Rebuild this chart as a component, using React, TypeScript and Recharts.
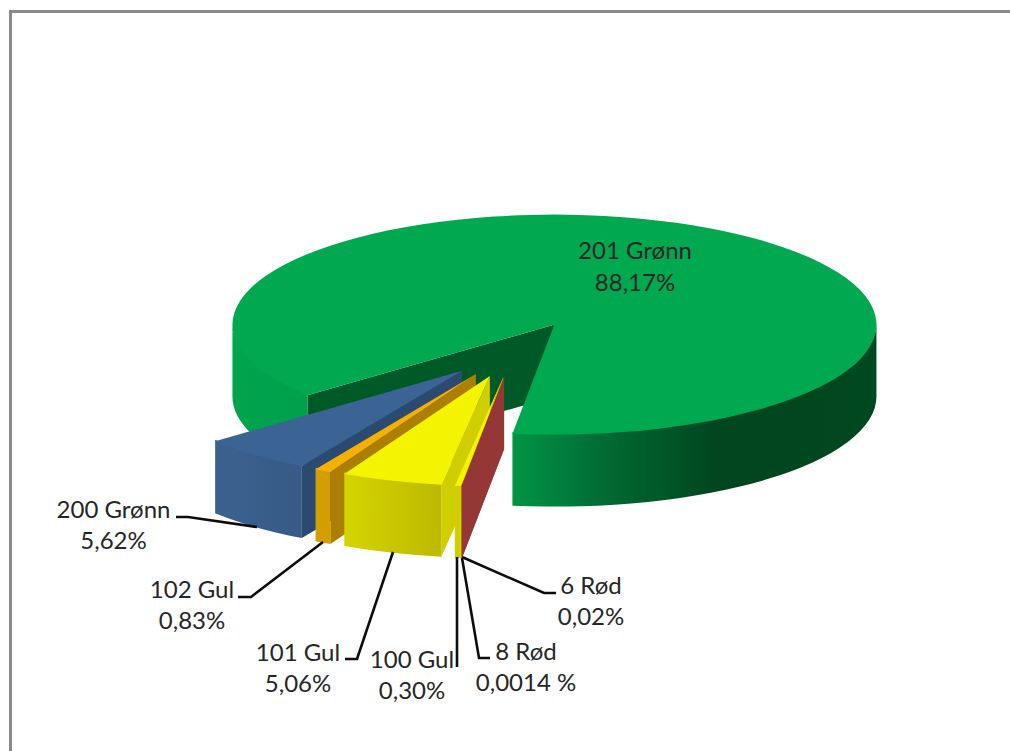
import React from 'react';
import { PieChart, Pie } from 'recharts';

// Slice names and shares, in the order the pie lays them out
const sliceNames = ['201 Grønn', '200 Grønn', '102 Gul', '101 Gul', '100 Gul', '8 Rød', '6 Rød'];
const sliceShares = [88.17, 5.62, 0.83, 5.06, 0.3, 0.0014, 0.02];
const shareTexts = ['88,17%', '5,62%', '0,83%', '5,06%', '0,30%', '0,0014 %', '0,02%'];

const topColors = ['#00a84f', '#3b6394', '#f6b100', '#f4f400', '#f4f400', '#953735', '#953735'];
const wallColors = ['#005a28', '#2b4a72', '#ad7f00', '#cfcf00', '#cfcf00', '#953735', '#953735'];
// Rim shading: [offset across the slice's full rim width, colour]
const rimStops: [number, string][][] = [
  [[0, '#00a54e'], [0.116, '#00a04c'], [0.434, '#009546'], [0.57, '#006d34'], [0.75, '#00461f'], [1, '#00481f']],
  [[0.116, '#3b628f'], [0.25, '#375a86']],
  [[0, '#d59e00'], [1, '#d59e00']],
  [[0.276, '#d4d400'], [0.426, '#bdb900']],
  [[0, '#cfcf00'], [1, '#cfcf00']],
  [[0, '#953735'], [1, '#953735']],
  [[0, '#953735'], [1, '#953735']],
];

// Label anchors and leader lines
const labelCenters = [[635, 249.5, 281.5], [113.5, 508.5, 539.5], [192, 588.5, 619.5], [298, 651.5, 682.5], [412, 658.5, 689.5], [526, 650.5, 681.5], [591, 584.5, 615.5]];
const leaderLines = [
  '',
  '176,517 188,517 257,527',
  '238,597 251,597 323,542',
  '345,659 357,659 393,552',
  '457,667 457,557',
  '490,658 479,658 462,558',
  '556,593 544,593 462,557',
];

const SQUASH = 110 / 322;
const DEPTH = 72;
const EXPLODE = 0.255;
const rad = (a: number) => (a * Math.PI) / 180;

const chartRows = sliceNames.map((name, i) => ({ name, value: sliceShares[i] }));

// Front-facing parts of an arc: the stretches where the rim points toward the viewer
function frontArcs(start: number, end: number): [number, number][] {
  const out: [number, number][] = [];
  for (let k = -2; k <= 2; k++) {
    const lo = Math.max(start, -180 + 360 * k);
    const hi = Math.min(end, 360 * k);
    if (hi > lo) out.push([lo, hi]);
  }
  return out;
}

function Slice3D(props: any) {
  const { cx, cy, outerRadius: R, startAngle, endAngle } = props;
  const name = props.name ?? props.payload?.name;
  const i = sliceNames.indexOf(name);
  const lo = Math.min(startAngle, endAngle);
  const hi = Math.max(startAngle, endAngle);
  const mid = (lo + hi) / 2;
  const ox = cx + EXPLODE * R * Math.cos(rad(mid));
  const oy = cy - EXPLODE * R * SQUASH * Math.sin(rad(mid));
  const Ry = R * SQUASH;
  const px = (a: number) => ox + R * Math.cos(rad(a));
  const py = (a: number) => oy - Ry * Math.sin(rad(a));

  const topPath = `M${ox},${oy} L${px(lo)},${py(lo)} A${R},${Ry} 0 ${hi - lo > 180 ? 1 : 0} 0 ${px(hi)},${py(hi)} Z`;
  const wall = (a: number) =>
    `M${ox},${oy} L${px(a)},${py(a)} L${px(a)},${py(a) + DEPTH} L${ox},${oy + DEPTH} Z`;
  const gradId = `rim-${i}`;
  // The rim starts slightly under the top face so no pale seam shows along the shared edge
  const tuck = 1.5;

  return (
    <g>
      <defs>
        <linearGradient id={gradId} gradientUnits="userSpaceOnUse" x1={ox - R} x2={ox + R} y1={0} y2={0}>
          {rimStops[i].map(([o, c]) => (
            <stop key={o} offset={o} stopColor={c} />
          ))}
        </linearGradient>
      </defs>
      {Math.cos(rad(hi)) < 0 && <path d={wall(hi)} fill={wallColors[i]} />}
      {Math.cos(rad(lo)) > 0 && <path d={wall(lo)} fill={wallColors[i]} />}
      {frontArcs(lo, hi).map(([a, b]) => (
        <path
          key={a}
          d={`M${px(a)},${py(a) - tuck} A${R},${Ry} 0 0 0 ${px(b)},${py(b) - tuck} L${px(b)},${py(b) + DEPTH} A${R},${Ry} 0 0 1 ${px(a)},${py(a) + DEPTH} Z`}
          fill={`url(#${gradId})`}
        />
      ))}
      <path d={topPath} fill={topColors[i]} />
    </g>
  );
}

function SliceLabel(props: any) {
  const name = props.name ?? props.payload?.name;
  const i = sliceNames.indexOf(name);
  const [x, y1, y2] = labelCenters[i];
  return (
    <g>
      {leaderLines[i] && <polyline points={leaderLines[i]} fill="none" stroke="#0d0d0d" strokeWidth={2.6} />}
      <text x={x} y={y1} textAnchor="middle" dominantBaseline="central" fontFamily="Lato" fontSize={24} fill="#262626">
        {name}
      </text>
      <text x={x} y={y2} textAnchor="middle" dominantBaseline="central" fontFamily="Lato" fontSize={24} fill="#262626">
        {shareTexts[i]}
      </text>
    </g>
  );
}

export default function App() {
  return (
    <div style={{ position: 'absolute', left: 0, top: 0, width: 1010, height: 751, overflow: 'hidden', background: '#fff' }}>
      <div style={{ position: 'absolute', left: 9, top: 10, width: 1100, height: 900, border: '3px solid #8a8a8a', boxSizing: 'border-box' }} />
      <div style={{ position: 'absolute', left: 0, top: 0 }}>
        <PieChart width={1010} height={751} margin={{ top: 0, right: 0, bottom: 0, left: 0 }}>
          <Pie
            data={chartRows}
            dataKey="value"
            nameKey="name"
            cx={514.9}
            cy={349.2}
            innerRadius={0}
            outerRadius={322}
            startAngle={-97.5}
            endAngle={262.5}
            stroke="none"
            isAnimationActive={false}
            shape={Slice3D}
            label={SliceLabel}
            labelLine={false}
          />
        </PieChart>
      </div>
    </div>
  );
}
